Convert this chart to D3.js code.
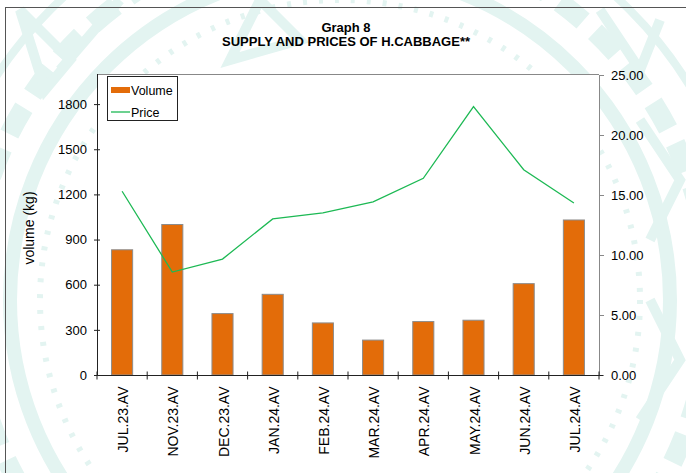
<!DOCTYPE html>
<html>
<head>
<meta charset="utf-8">
<script src="https://cdn.jsdelivr.net/npm/d3@7"></script>
<style>
  body { margin: 0; background: #fff; }
  svg { display: block; font-family: "Liberation Sans", Arial, sans-serif; }
</style>
</head>
<body>
<div id="chart"></div>
<script>
// data
const months = ["JUL.23.AV", "NOV.23.AV", "DEC.23.AV", "JAN.24.AV", "FEB.24.AV",
                "MAR.24.AV", "APR.24.AV", "MAY.24.AV", "JUN.24.AV", "JUL.24.AV"];
const volume = [832, 1000, 408, 536, 346, 232, 355, 364, 607, 1030];
const price = [15.31, 8.58, 9.66, 13.01, 13.51, 14.43, 16.39, 22.37, 17.11, 14.34];
const volumeTicks = [0, 300, 600, 900, 1200, 1500, 1800];
const priceTicks = [0, 5, 10, 15, 20, 25];

const width = 686, height = 473;
const margin = {top: 75, right: 87, bottom: 97, left: 97};
const fs = 13;

const svg = d3.select("#chart")
    .append("svg")
    .attr("width", width)
    .attr("height", height);

// faint teal watermark behind the chart
const deco = svg.append("g").attr("fill", "none").attr("stroke", "#e3f4f1");
[[340, 300, 330, 14, null], [340, 300, 300, 6, "4 12"], [340, 300, 370, 20, "30 16"],
 [340, 300, 410, 8, null]].forEach(c => {
    deco.append("circle")
        .attr("cx", c[0]).attr("cy", c[1]).attr("r", c[2])
        .attr("stroke-width", c[3])
        .attr("stroke-dasharray", c[4]);
});
deco.append("path")
    .attr("d", "M20,10 L70,60 L45,90 Z M120,0 L60,70 M260,0 L230,60 L300,40 Z M600,10 L640,70 L660,20 M640,120 L680,180 L650,240 M650,300 L680,360 L640,420")
    .attr("stroke-width", 10);

// chart area frame
svg.append("rect")
    .attr("x", 5.5).attr("y", 7.5)
    .attr("width", width + 10).attr("height", height + 10)
    .attr("fill", "none")
    .attr("stroke", "#555");

const x = d3.scaleBand()
    .domain(months)
    .range([margin.left, width - margin.right]);

const yLeft = d3.scaleLinear()
    .domain([0, 2000])
    .range([height - margin.bottom - 1, margin.top - 1]);

const yRight = d3.scaleLinear()
    .domain([0, 25])
    .range([height - margin.bottom - 1, margin.top]);

// plot area
svg.append("rect")
    .attr("x", margin.left).attr("y", margin.top - 1)
    .attr("width", width - margin.left - margin.right)
    .attr("height", height - margin.top - margin.bottom)
    .attr("fill", "#fff");
svg.append("line")
    .attr("x1", margin.left).attr("x2", width - margin.right)
    .attr("y1", margin.top - 0.5).attr("y2", margin.top - 0.5)
    .attr("stroke", "#888");

// bars
const bw = x.bandwidth() * 0.42;
svg.append("g")
    .selectAll("rect")
    .data(months)
    .enter()
    .append("rect")
    .attr("x", d => x(d) + (x.bandwidth() - bw) / 2)
    .attr("y", (d, i) => yLeft(volume[i]))
    .attr("width", bw)
    .attr("height", (d, i) => yLeft(0) - yLeft(volume[i]))
    .attr("fill", "#e36c09")
    .attr("stroke", "#8c8c8c")
    .attr("stroke-width", 1);

// price line
const line = d3.line()
    .x((d, i) => x(months[i]) + x.bandwidth() / 2)
    .y(d => yRight(d));
svg.append("path")
    .datum(price)
    .attr("d", line)
    .attr("fill", "none")
    .attr("stroke", "#1db954")
    .attr("stroke-width", 1.3);

// left axis
const gl = svg.append("g")
    .attr("transform", `translate(${margin.left},0)`)
    .call(d3.axisLeft(yLeft).tickValues(volumeTicks).tickFormat(d3.format("d"))
        .tickSizeInner(4).tickSizeOuter(0).tickPadding(6));
gl.selectAll(".tick line").attr("x2", -3).attr("x1", 3).attr("stroke", "#222");
gl.select(".domain").attr("stroke", "#222").attr("d", `M0.5,${margin.top - 1}V${yLeft(0)}`);
gl.selectAll("text").attr("font-size", fs).attr("fill", "#000")
    .attr("font-family", "Liberation Sans, Arial, sans-serif");

// right axis
const gr = svg.append("g")
    .attr("transform", `translate(${width - margin.right},0)`)
    .call(d3.axisRight(yRight).tickValues(priceTicks).tickFormat(d3.format(".2f"))
        .tickSizeInner(5).tickSizeOuter(0).tickPadding(7));
gr.selectAll(".tick line").attr("stroke", "#888");
gr.select(".domain").attr("stroke", "#888");
gr.selectAll("text").attr("font-size", fs).attr("fill", "#000")
    .attr("font-family", "Liberation Sans, Arial, sans-serif");

// bottom axis, ticks on band edges
const gx = svg.append("g")
    .attr("transform", `translate(0,${yLeft(0) + 0.5})`);
gx.append("line")
    .attr("x1", margin.left).attr("x2", width - margin.right + 4)
    .attr("stroke", "#222");
gx.selectAll(".edge")
    .data(months.concat(["end"]))
    .enter()
    .append("line")
    .attr("class", "edge")
    .attr("x1", (d, i) => i < months.length ? x(d) : x(months[i - 1]) + x.bandwidth())
    .attr("x2", (d, i) => i < months.length ? x(d) : x(months[i - 1]) + x.bandwidth())
    .attr("y1", -4).attr("y2", 4)
    .attr("stroke", "#222");
gx.selectAll(".lbl")
    .data(months)
    .enter()
    .append("text")
    .attr("class", "lbl")
    .attr("transform", d => `translate(${x(d) + x.bandwidth() / 2 + 6},11) rotate(-90)`)
    .attr("text-anchor", "end")
    .attr("font-size", 14)
    .text(d => d);

// axis title
svg.append("text")
    .attr("transform", "translate(34,228) rotate(-90)")
    .attr("text-anchor", "middle")
    .attr("font-size", 14)
    .text("volume (kg)");

// titles
svg.append("text")
    .attr("x", 346).attr("y", 31.5)
    .attr("text-anchor", "middle")
    .attr("font-size", fs).attr("font-weight", "bold")
    .text("Graph 8");
svg.append("text")
    .attr("x", 346).attr("y", 46)
    .attr("text-anchor", "middle")
    .attr("font-size", fs).attr("font-weight", "bold")
    .text("SUPPLY AND PRICES OF H.CABBAGE**");

// legend
const lg = svg.append("g");
lg.append("rect")
    .attr("x", 107.5).attr("y", 76.5).attr("width", 70).attr("height", 44)
    .attr("fill", "#fff").attr("stroke", "#222");
lg.append("rect")
    .attr("x", 111).attr("y", 87).attr("width", 19).attr("height", 6)
    .attr("fill", "#e36c09");
lg.append("text").attr("x", 131).attr("y", 94.5).attr("font-size", 12.5).text("Volume");
lg.append("line")
    .attr("x1", 111).attr("x2", 130).attr("y1", 112).attr("y2", 112)
    .attr("stroke", "#1db954").attr("stroke-width", 1.3);
lg.append("text").attr("x", 131).attr("y", 116.5).attr("font-size", 12.5).text("Price");
</script>
</body>
</html>
